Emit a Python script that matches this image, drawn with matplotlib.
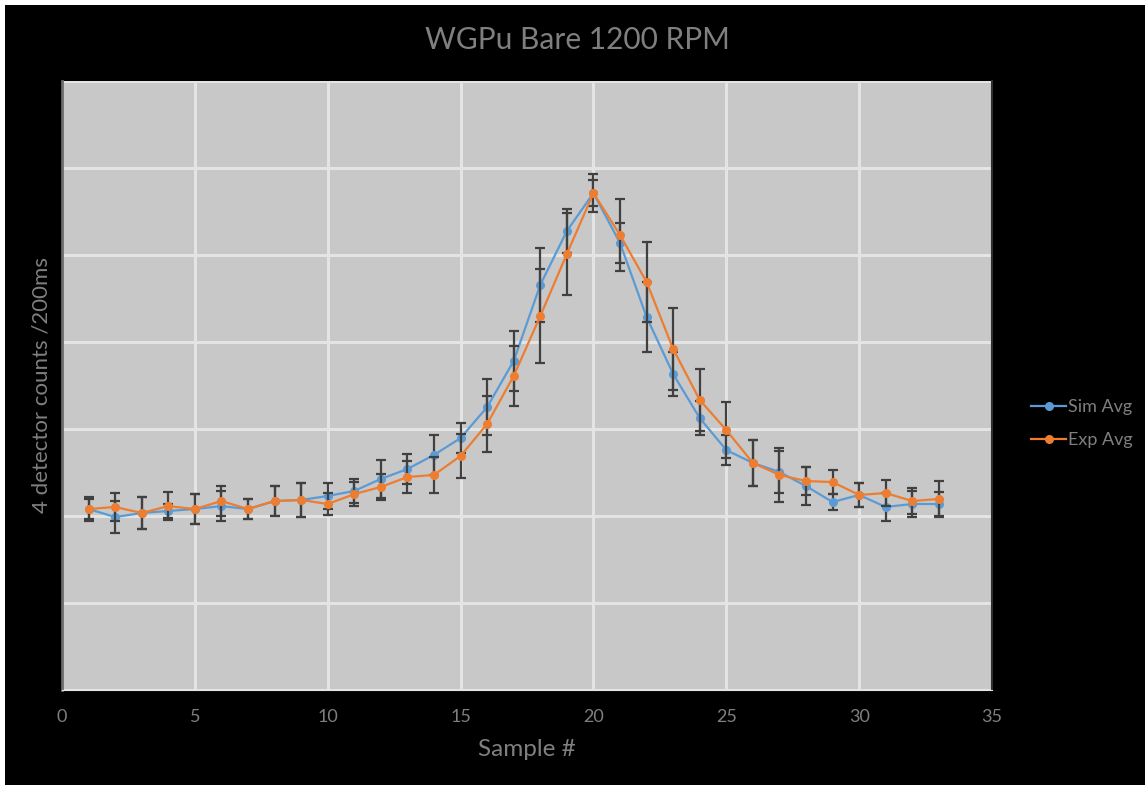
import matplotlib
matplotlib.use('Agg')
import matplotlib.pyplot as plt
import matplotlib.patches as mpatches
from matplotlib.lines import Line2D
import numpy as np

plt.rcParams['font.family'] = ['Lato', 'DejaVu Sans']

samples = list(range(1, 34))

sim_avg = [1040, 994, 1017, 1029, 1040, 1057, 1040, 1086, 1092, 1115,
           1144, 1213, 1270, 1351, 1448, 1626, 1891, 2328, 2638, 2856,
           2569, 2144, 1816, 1563, 1379, 1305, 1253, 1172, 1080, 1121,
           1052, 1069, 1069]
sim_err = [57, 92, 92, 40, 86, 86, 57, 86, 98, 75,
           69, 109, 86, 115, 86, 161, 172, 213, 126, 109,
           115, 201, 126, 98, 86, 132, 121, 109, 46, 69,
           80, 75, 69]

exp_avg = [1040, 1052, 1017, 1057, 1040, 1086, 1040, 1086, 1092, 1069,
           1126, 1167, 1224, 1236, 1345, 1529, 1805, 2149, 2506, 2856,
           2615, 2345, 1960, 1667, 1494, 1305, 1236, 1201, 1195, 1121,
           1132, 1086, 1098]
exp_err = [69, 80, 92, 80, 86, 86, 57, 86, 98, 63,
           69, 75, 92, 103, 126, 161, 172, 270, 236, 75,
           207, 230, 236, 178, 161, 132, 155, 80, 69, 69,
           75, 75, 103]

x_ticks = [0, 5, 10, 15, 20, 25, 30, 35]

blue = '#5b9bd5'
orange = '#ed7d31'
txt = '#7f7f7f'

fig = plt.figure(figsize=(11.48, 7.87), dpi=100, facecolor='white')
# black chart area with a thin white border
bg = mpatches.Rectangle((5/1148, 2/787), 1 - 8/1148, 1 - 7/787,
                        transform=fig.transFigure, facecolor='black',
                        edgecolor='none', zorder=-10)
fig.patches.append(bg)

ax = fig.add_axes([62/1148, 1 - 690/787, 930/1148, 609/787])
ax.set_facecolor('#c8c8c8')

ax.errorbar(samples, sim_avg, yerr=sim_err, color=blue, marker='o', ms=5.5,
            lw=1.6, ecolor='#404040', elinewidth=1.6, capsize=3.5, capthick=1.6,
            zorder=3)
ax.errorbar(samples, exp_avg, yerr=exp_err, color=orange, marker='o', ms=5.5,
            lw=1.6, ecolor='#404040', elinewidth=1.6, capsize=3.5, capthick=1.6,
            zorder=4)

ax.set_xlim(0, 35)
ax.set_ylim(0, 3500)
ax.set_xticks(x_ticks)
ax.set_yticks(np.arange(0, 3501, 500))
ax.set_yticklabels([])
ax.tick_params(axis='both', length=0, colors=txt, labelsize=13, pad=14)
ax.grid(True, color='#e4e4e4', lw=2.2, zorder=1)
ax.set_axisbelow(True)

ax.spines['top'].set_visible(False)
ax.spines['left'].set_color('#6a6a6a')
ax.spines['left'].set_linewidth(2)
ax.spines['bottom'].set_color('#e4e4e4')
ax.spines['right'].set_color('#303030')
ax.spines['right'].set_linewidth(1.5)

fig.text(577/1148, 1 - 40/787, 'WGPu Bare 1200 RPM',
         ha='center', va='center', fontsize=21.5, color=txt)
ax.set_xlabel('Sample #', fontsize=17.5, color=txt, labelpad=10)
fig.text(42/1148, 1 - 385/787, '4 detector counts /200ms', rotation=90,
         ha='center', va='center', fontsize=16, color=txt)

handles = [Line2D([], [], color=blue, marker='o', ms=5.5, lw=1.6),
           Line2D([], [], color=orange, marker='o', ms=5.5, lw=1.6)]
leg = ax.legend(handles, ['Sim Avg', 'Exp Avg'], loc='center left',
                bbox_to_anchor=(1.025, 0.437), frameon=False,
                fontsize=13, labelcolor=txt, handlelength=1.9, handletextpad=0.1,
                labelspacing=0.95)

fig.savefig('out.png', dpi=100, facecolor='white')
